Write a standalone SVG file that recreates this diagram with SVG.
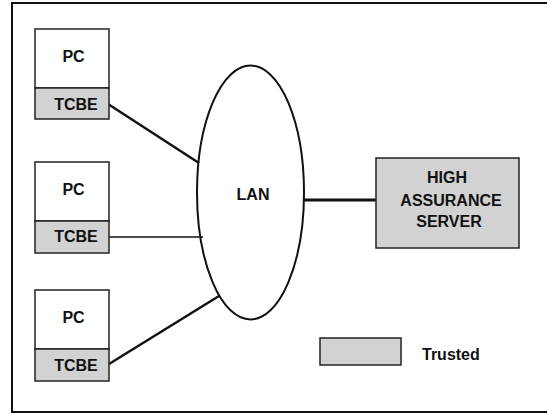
<svg xmlns="http://www.w3.org/2000/svg" width="547" height="414" viewBox="0 0 547 414">
<style>
.box{fill:#ffffff;stroke:#222;stroke-width:1.5}
.tr{fill:#d2d2d2;stroke:#222;stroke-width:1.5}
.t{font-family:"Liberation Sans",Arial,sans-serif;font-weight:bold;font-size:16px;fill:#111;text-anchor:middle}
.ln{stroke:#111;fill:none}
</style>
<rect x="0" y="0" width="547" height="414" fill="#fff"/>
<rect x="12" y="3" width="560" height="409" fill="none" stroke="#111" stroke-width="2"/>
<g id="connectors">
<line class="ln" x1="108" y1="104" x2="199" y2="163" stroke-width="2.5"/>
<line class="ln" x1="109" y1="237" x2="203" y2="237" stroke-width="1.5"/>
<line class="ln" x1="109" y1="364" x2="219" y2="296" stroke-width="2.5"/>
<line class="ln" x1="304" y1="200" x2="376" y2="200" stroke-width="3"/>
</g>
<g id="lan">
<ellipse cx="250.5" cy="192.5" rx="53.5" ry="127" fill="none" stroke="#111" stroke-width="2"/>
<text class="t" x="253" y="200">LAN</text>
</g>
<g id="pc1">
<rect class="box" x="35" y="29" width="74" height="59"/>
<rect class="tr" x="35" y="88" width="74" height="31"/>
<text class="t" x="73.5" y="62">PC</text>
<text class="t" x="76" y="110">TCBE</text>
</g>
<g id="pc2">
<rect class="box" x="35" y="162" width="74" height="59"/>
<rect class="tr" x="35" y="221" width="74" height="32"/>
<text class="t" x="73.5" y="195">PC</text>
<text class="t" x="76" y="242">TCBE</text>
</g>
<g id="pc3">
<rect class="box" x="35" y="290" width="74" height="59"/>
<rect class="tr" x="35" y="349" width="74" height="32"/>
<text class="t" x="73.5" y="323">PC</text>
<text class="t" x="76" y="371">TCBE</text>
</g>
<g id="server">
<rect class="tr" x="376" y="158" width="143" height="90" stroke-width="2"/>
<text class="t" x="447" y="183">HIGH</text>
<text class="t" x="451" y="206">ASSURANCE</text>
<text class="t" x="449" y="227">SERVER</text>
</g>
<g id="legend">
<rect class="tr" x="320" y="338" width="81" height="27"/>
<text class="t" x="422" y="360" style="text-anchor:start">Trusted</text>
</g>
</svg>
